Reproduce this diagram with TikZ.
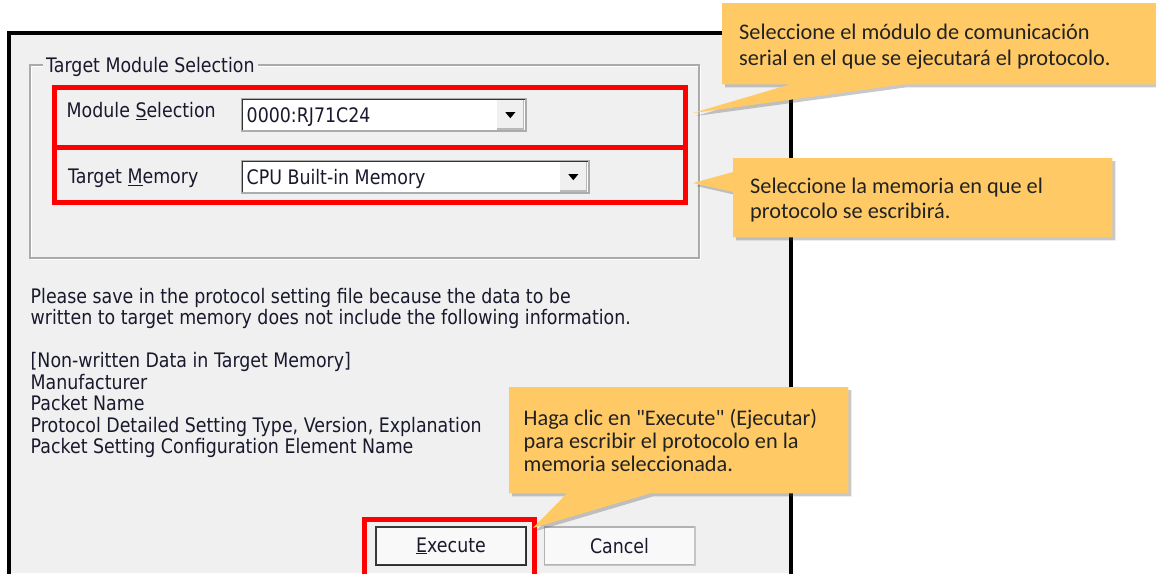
\documentclass[tikz,border=0pt]{standalone}
\usepackage{fontspec}
\setmainfont{Carlito}[Ligatures=TeXOff]
\newfontfamily\dlgfont[FakeStretch=0.87]{DejaVu Sans}
\usetikzlibrary{shadows}
\pgfdeclarelayer{dlg}
\pgfdeclarelayer{mid}
\pgfsetlayers{dlg,mid,main}
\definecolor{dlgbg}{RGB}{240,240,240}
\definecolor{callfill}{RGB}{255,202,102}
\definecolor{dlgtext}{RGB}{25,25,45}
\definecolor{redline}{RGB}{255,0,0}
\definecolor{calltext}{RGB}{34,34,34}
\definecolor{grpline}{RGB}{170,170,170}
\tikzset{
  dlgtxt/.style={font=\dlgfont\fontsize{20}{22}\selectfont, text=dlgtext, inner sep=0pt, anchor=base west},
  calltxt/.style={font=\fontsize{22.3}{25}\selectfont, text=calltext, inner sep=0pt, anchor=base west},
  redbox/.style={draw=redline, line width=4.5pt, inner sep=0pt, anchor=north west},
  combo/.style={fill=white, draw=gray!65, line width=1.6pt, inner sep=0pt, anchor=north west},
  ddbtn/.style={fill=gray!12, inner sep=0pt, anchor=north east, minimum width=26pt, minimum height=29pt},
  btn/.style={fill=gray!5, draw=gray!60, line width=1.2pt, inner sep=0pt, minimum height=38pt, minimum width=150pt, font=\dlgfont\fontsize{20}{22}\selectfont, text=dlgtext},
  callbox/.style={inner sep=0pt, anchor=north west},
  callshape/.style={fill=callfill, drop shadow={shadow xshift=3pt, shadow yshift=-3pt, opacity=0.3, fill=black!70}},
}
\begin{document}
\begin{tikzpicture}[x=1pt,y=-1pt]
\useasboundingbox (0,0) rectangle (1156,573);
\begin{pgfonlayer}{dlg}
  \fill[white] (0,0) rectangle (1156,573);
  \fill[dlgbg] (9,33) rectangle (791,573);
  \draw[black, line width=3.6pt] (9,578) -- (9,33) -- (791,33) -- (791,578);
  % group box
  \draw[white, line width=1pt] (31.2,66.2) rectangle (700.2,259.2);
  \draw[grpline, line width=1.2pt] (30,65) rectangle (699,258);
  \node[dlgtxt, fill=dlgbg, inner xsep=3pt, inner ysep=2pt] (gtitle) at (43,72.5) {Target Module Selection};
  % red boxes
  \node[redbox, minimum width=631pt, minimum height=60pt] (r1) at (52,85) {};
  \node[redbox, minimum width=631pt, minimum height=55pt] (r2) at (52,145) {};
  % module selection row
  \node[dlgtxt] (lblmod) at (66.5,117.5) {Module \underline{S}election};
  \node[combo, minimum width=284pt, minimum height=32pt] (cb1) at (241,98) {};
  \draw[gray!40!black, line width=1pt] (cb1.south west) ++(1.2,-1.2) -- ([shift={(1.2,1.2)}]cb1.north west) -- ([shift={(-1.2,1.2)}]cb1.north east);
  \node[dlgtxt] (cb1t) at (246.5,122.7) {0000:RJ71C24};
  \node[ddbtn] (dd1) at (523.5,99.5) {};
  \draw[gray!55, line width=1.5pt] (dd1.south west) -- (dd1.south east) -- (dd1.north east);
  \fill[black] ([shift={(-5,-2)}]dd1.center) -- ([shift={(5,-2)}]dd1.center) -- ([shift={(0,4)}]dd1.center) -- cycle;
  % target memory row
  \node[dlgtxt] (lblmem) at (68,183.3) {Target \underline{M}emory};
  \node[combo, minimum width=347pt, minimum height=32pt] (cb2) at (241,160) {};
  \draw[gray!40!black, line width=1pt] (cb2.south west) ++(1.2,-1.2) -- ([shift={(1.2,1.2)}]cb2.north west) -- ([shift={(-1.2,1.2)}]cb2.north east);
  \node[dlgtxt] (cb2t) at (246.5,184.5) {CPU Built-in Memory};
  \node[ddbtn] (dd2) at (586.5,161.5) {};
  \draw[gray!55, line width=1.5pt] (dd2.south west) -- (dd2.south east) -- (dd2.north east);
  \fill[black] ([shift={(-5,-2)}]dd2.center) -- ([shift={(5,-2)}]dd2.center) -- ([shift={(0,4)}]dd2.center) -- cycle;
  % message text
  \node[dlgtxt] (m1) at (30.5,303) {Please save in the protocol setting file because the data to be};
  \node[dlgtxt] (m2) at (30.5,324.5) {written to target memory does not include the following information.};
  \node[dlgtxt] (m3) at (30.5,367.5) {[Non-written Data in Target Memory]};
  \node[dlgtxt] (m4) at (30.5,389) {Manufacturer};
  \node[dlgtxt] (m5) at (30.5,410.5) {Packet Name};
  \node[dlgtxt] (m6) at (30.5,432) {Protocol Detailed Setting Type, Version, Explanation};
  \node[dlgtxt] (m7) at (30.5,453.5) {Packet Setting Configuration Element Name};
  % buttons
  \node[btn, draw=gray!45!black] (exec) at (451,546) {\underline{E}xecute};
  \draw[gray!35!black, line width=1.6pt] (exec.south west) -- (exec.south east) -- (exec.north east);
  \node[btn] (cancel) at (619.5,546) {Cancel};
  \draw[gray!45, line width=1.6pt] (cancel.south west) -- (cancel.south east) -- (cancel.north east);
  \node[redbox, minimum width=170pt, minimum height=62pt] (r3) at (362,517) {};
\end{pgfonlayer}
% callout anchors
\node[callbox, minimum width=434pt, minimum height=81pt] (c1) at (722,3) {};
\node[callbox, minimum width=379pt, minimum height=79pt] (c2) at (733,158) {};
\node[callbox, minimum width=339pt, minimum height=106pt] (c3) at (509,387) {};
\coordinate (t1) at (693,113);
\coordinate (t2) at (693,183);
\coordinate (t3) at (533,528);
\begin{pgfonlayer}{mid}
  \path[callshape] (c1.north west) -- (c1.north east) -- (c1.south east)
     -- ([xshift=181pt]c1.south west) -- (t1) -- ([xshift=68pt]c1.south west) -- (c1.south west) -- cycle;
  \path[callshape] (c2.north west) -- (c2.north east) -- (c2.south east) -- (c2.south west)
     -- ([yshift=-34pt]c2.north west) -- (t2) -- ([yshift=-14pt]c2.north west) -- cycle;
  \path[callshape] (c3.north west) -- (c3.north east) -- (c3.south east)
     -- ([xshift=141pt]c3.south west) -- (t3) -- ([xshift=58pt]c3.south west) -- (c3.south west) -- cycle;
\end{pgfonlayer}
% callout texts
\node[calltxt] (c1a) at (739,39.3) {Seleccione el módulo de comunicación};
\node[calltxt] (c1b) at (739,65) {serial en el que se ejecutará el protocolo.};
\node[calltxt] (c2a) at (750,193.3) {Seleccione la memoria en que el};
\node[calltxt] (c2b) at (750,218.3) {protocolo se escribirá.};
\node[calltxt] (c3a) at (523.5,425) {Haga clic en "Execute" (Ejecutar)};
\node[calltxt] (c3b) at (523.5,448.3) {para escribir el protocolo en la};
\node[calltxt] (c3c) at (523.5,471.7) {memoria seleccionada.};
\end{tikzpicture}
\end{document}
